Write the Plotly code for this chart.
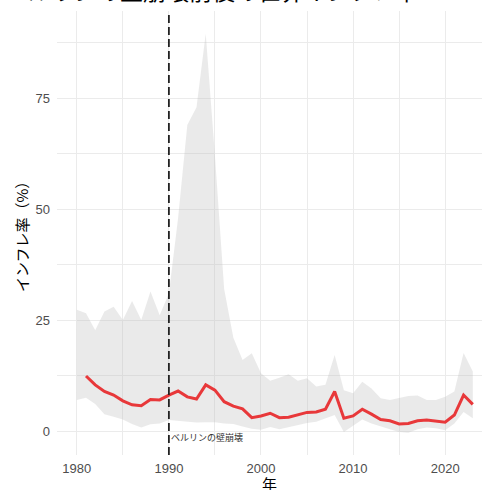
import plotly.graph_objects as go

# ---- data ----
band_years = list(range(1980, 2024))
band_upper = [27.3, 26.5, 22.7, 26.9, 28.0, 25.0, 29.3, 25.0, 31.4, 26.1,
              31.0, 48.0, 68.9, 72.9, 89.5, 62.0, 32.0, 21.0, 16.0, 17.5,
              13.0, 11.3, 12.0, 12.8, 11.3, 11.9, 10.0, 10.4, 17.1, 9.2,
              8.5, 11.1, 9.6, 7.4, 7.0, 7.4, 7.9, 8.0, 7.0, 7.0,
              7.7, 8.9, 17.6, 13.4]
band_lower = [7.0, 7.5, 6.1, 3.8, 3.2, 2.6, 1.6, 0.8, 1.5, 1.7,
              2.5, 2.3, 2.0, 1.9, 2.0, 2.0, 1.7, 1.6, 1.0, 0.5,
              0.3, 0.9, 0.4, 0.9, 1.4, 1.8, 2.1, 2.8, 3.6, -0.2,
              1.3, 2.6, 1.7, 1.0, 0.4, -0.2, -0.4, 0.4, 0.8, 0.6,
              0.2, 1.7, 4.3, 2.9]

line_years = list(range(1981, 2024))
line_values = [12.4, 10.4, 8.9, 8.1, 6.8, 5.9, 5.7, 7.1, 7.0, 8.1,
               9.0, 7.7, 7.2, 10.4, 9.2, 6.6, 5.6, 5.0, 3.0, 3.4,
               4.0, 3.0, 3.1, 3.6, 4.2, 4.3, 4.9, 8.9, 2.9, 3.4,
               4.9, 3.8, 2.6, 2.3, 1.6, 1.7, 2.3, 2.5, 2.3, 2.0,
               3.6, 8.1, 6.0]

event_year = 1990
event_label = "ベルリンの壁崩壊"
title_text = "ベルリンの壁崩壊前後の世界インフレ率"
x_title = "年"
y_title = "インフレ率（%）"

FONT = "Liberation Sans, Arial, Noto Sans CJK JP, sans-serif"
JP = "Noto Sans CJK JP"

fig = go.Figure()
fig.add_trace(go.Scatter(x=band_years, y=band_lower, mode="lines",
                         line=dict(width=0), hoverinfo="skip", showlegend=False))
fig.add_trace(go.Scatter(x=band_years, y=band_upper, mode="lines",
                         line=dict(width=0), fill="tonexty",
                         fillcolor="rgba(190,190,190,0.33)",
                         hoverinfo="skip", showlegend=False))
fig.add_trace(go.Scatter(x=line_years, y=line_values, mode="lines",
                         line=dict(color="#e8383a", width=3),
                         showlegend=False))

fig.add_shape(type="line", xref="x", yref="paper", x0=event_year, x1=event_year,
              y0=0, y1=1, line=dict(color="#222222", width=1.8, dash="8px,4px"))
fig.add_annotation(x=event_year, y=-1.4, xref="x", yref="y", text=event_label,
                   showarrow=False, xanchor="left", yanchor="middle", xshift=0,
                   font=dict(family=JP, size=9, color="#333333"))

# title (partly outside the picture, as in the reference)
fig.add_annotation(x=-0.127, y=1.0, xref="paper", yref="paper", text=title_text,
                   showarrow=False, xanchor="left", yanchor="bottom", yshift=2,
                   font=dict(family=JP, size=23, color="#000000"))
# axis titles
fig.add_annotation(x=0.5, y=0, xref="paper", yref="paper", text=x_title,
                   showarrow=False, xanchor="center", yanchor="top", yshift=-16,
                   font=dict(family=JP, size=15, color="#000000"))
fig.add_annotation(x=0, y=0.5, xref="paper", yref="paper", text=y_title,
                   showarrow=False, xanchor="center", yanchor="middle", xshift=-36,
                   textangle=-90,
                   font=dict(family=JP, size=15, color="#000000"))

grid = "#ebebeb"
fig.update_layout(
    width=482, height=490,
    margin=dict(l=57, r=0, t=11, b=35),
    paper_bgcolor="white", plot_bgcolor="white",
    font=dict(family=FONT),
    xaxis=dict(range=[1977.85, 2024.0], tickmode="linear", tick0=1980, dtick=10,
               showgrid=True, gridcolor=grid, gridwidth=1.2, zeroline=False,
               showline=False, ticks="", ticklabelstandoff=4,
               tickfont=dict(size=13, color="#4d4d4d", family=FONT),
               minor=dict(showgrid=True, tick0=1985, dtick=10,
                          gridcolor=grid, gridwidth=0.6)),
    yaxis=dict(range=[-5.4, 94.6], tickmode="linear", tick0=0, dtick=25,
               showgrid=True, gridcolor=grid, gridwidth=1.2, zeroline=False,
               showline=False, ticks="", ticklabelstandoff=6,
               tickfont=dict(size=13, color="#4d4d4d", family=FONT),
               minor=dict(showgrid=True, tick0=12.5, dtick=25,
                          gridcolor=grid, gridwidth=0.6)),
)

fig.write_html("out.html", config={"displayModeBar": False},
               post_script="document.body.style.margin='0';")
